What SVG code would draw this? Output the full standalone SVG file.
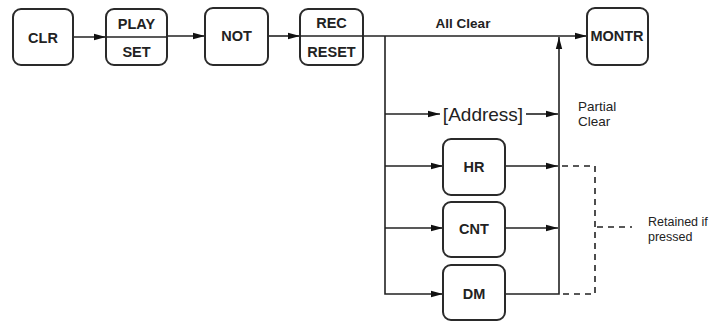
<svg xmlns="http://www.w3.org/2000/svg" width="721" height="322" viewBox="0 0 721 322">
<style>
.box{fill:#fff;stroke:#2a2a2a;stroke-width:2}
.bt{font-family:"Liberation Sans",Arial,sans-serif;font-weight:bold;font-size:14.5px;fill:#222;text-anchor:middle}
.lbl{font-family:"Liberation Sans",Arial,sans-serif;fill:#222}
.ln{fill:none;stroke:#222;stroke-width:1.6}
.dash{fill:none;stroke:#222;stroke-width:1.6;stroke-dasharray:6,5}
</style>
<defs>
<marker id="ah" markerUnits="userSpaceOnUse" markerWidth="13" markerHeight="8" refX="12" refY="4" orient="auto">
<path d="M0,0.8 L12,4 L0,7.2 z" fill="#111"/>
</marker>
</defs>
<rect width="721" height="322" fill="#fff"/>
<g id="connectors">
<line class="ln" x1="73" y1="37" x2="106" y2="37" marker-end="url(#ah)"/>
<line class="ln" x1="167" y1="36" x2="205" y2="36" marker-end="url(#ah)"/>
<line class="ln" x1="268" y1="36" x2="300" y2="36" marker-end="url(#ah)"/>
<line class="ln" x1="363" y1="36" x2="587" y2="36" marker-end="url(#ah)"/>
<polyline class="ln" points="385,36 385,294 443,294" marker-end="url(#ah)"/>
<line class="ln" x1="385" y1="114" x2="440" y2="114" marker-end="url(#ah)"/>
<line class="ln" x1="526" y1="114" x2="558" y2="114" marker-end="url(#ah)"/>
<line class="ln" x1="385" y1="166" x2="443" y2="166" marker-end="url(#ah)"/>
<line class="ln" x1="505" y1="166" x2="558" y2="166" marker-end="url(#ah)"/>
<line class="ln" x1="385" y1="228" x2="443" y2="228" marker-end="url(#ah)"/>
<line class="ln" x1="505" y1="228" x2="558" y2="228" marker-end="url(#ah)"/>
<polyline class="ln" points="505,294 559,294 559,37" marker-end="url(#ah)"/>
<polyline class="dash" points="562,166 595,166 595,294 562,294"/>
<line class="dash" x1="597" y1="227" x2="632" y2="227"/>
<text class="lbl" x="463" y="28" font-size="13.5" font-weight="bold" text-anchor="middle">All Clear</text>
<text class="lbl" x="578" y="111" font-size="13.5">Partial</text>
<text class="lbl" x="578" y="126" font-size="13.5">Clear</text>
<text class="lbl" x="648" y="226" font-size="12.5">Retained if</text>
<text class="lbl" x="648" y="241" font-size="12.5">pressed</text>
</g>
<g id="CLR"><rect class="box" x="13" y="9" width="60" height="56" rx="8"/><text class="bt" x="43" y="43">CLR</text></g>
<g id="PLAYSET"><rect class="box" x="106" y="9" width="61" height="56" rx="8"/><line class="ln" x1="106" y1="37" x2="167" y2="37"/><text class="bt" x="136.5" y="29">PLAY</text><text class="bt" x="136.5" y="57">SET</text></g>
<g id="NOT"><rect class="box" x="205" y="8" width="63" height="57" rx="8"/><text class="bt" x="236.5" y="41">NOT</text></g>
<g id="RECRESET"><rect class="box" x="300" y="9" width="63" height="56" rx="8"/><line class="ln" x1="300" y1="36" x2="363" y2="36"/><text class="bt" x="331.5" y="28">REC</text><text class="bt" x="331.5" y="57">RESET</text></g>
<g id="MONTR"><rect class="box" x="587" y="8" width="61" height="57" rx="8"/><text class="bt" x="617" y="41">MONTR</text></g>
<g id="Address"><text class="lbl" x="483" y="121" font-size="19" text-anchor="middle">[Address]</text></g>
<g id="HR"><rect class="box" x="443" y="139" width="62" height="56" rx="8"/><text class="bt" x="474" y="172">HR</text></g>
<g id="CNT"><rect class="box" x="443" y="202" width="62" height="55" rx="8"/><text class="bt" x="474" y="234">CNT</text></g>
<g id="DM"><rect class="box" x="443" y="265" width="62" height="55" rx="8"/><text class="bt" x="474" y="299">DM</text></g>
</svg>
